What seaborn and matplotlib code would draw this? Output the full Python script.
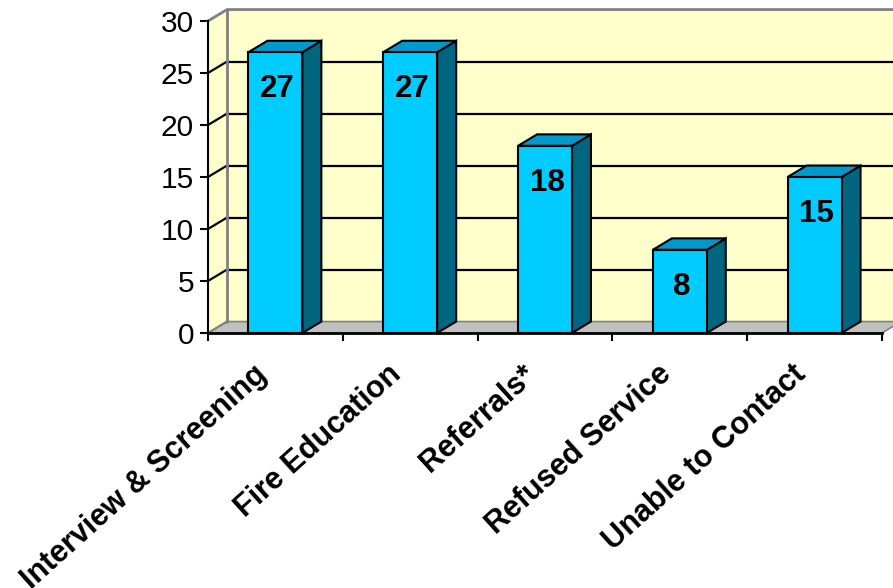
import matplotlib
matplotlib.use("Agg")
import matplotlib.pyplot as plt
import matplotlib.transforms as mtransforms
import seaborn as sns
import pandas as pd
from matplotlib.patches import Polygon
from matplotlib.ticker import FixedLocator

categories = ["Interview & Screening", "Fire Education", "Referrals*",
              "Refused Service", "Unable to Contact"]
values = [27, 27, 18, 8, 15]
y_ticks = [0, 5, 10, 15, 20, 25, 30]

sns.set_theme(style="white")
plt.rcParams["font.family"] = ["Liberation Sans", "DejaVu Sans"]
plt.rcParams["text.color"] = "black"
plt.rcParams["xtick.color"] = "black"
plt.rcParams["ytick.color"] = "black"
plt.rcParams["axes.labelcolor"] = "black"

W, H = 893, 588
fig = plt.figure(figsize=(W / 100, H / 100), dpi=100)
ax = fig.add_axes([208 / W, (H - 333) / H, (882 - 208) / W, 312 / H])

df = pd.DataFrame({"category": categories, "value": values})
sns.barplot(data=df, x="category", y="value", color="#00CCFF", width=0.4,
            saturation=1, edgecolor="black", linewidth=1.5, ax=ax, zorder=4)
bars = list(ax.patches)

ax.set_xlim(-0.5, 4.5)
ax.set_ylim(0, 30)
ax.set_facecolor("none")

# depth offsets in data units
dx = 19 / 134.8
dy = 1.1
x0, x1 = -0.5, 4.5
ymax = 30

wall_yellow = "#FFFFCC"
frame_gray = "#808080"

# back wall
ax.add_patch(Polygon([(x0 + dx, dy), (x1 + dx, dy), (x1 + dx, ymax + dy), (x0 + dx, ymax + dy)],
                     closed=True, facecolor=wall_yellow, edgecolor="none", zorder=0.5, clip_on=False))
# left wall
ax.add_patch(Polygon([(x0, 0), (x0 + dx, dy), (x0 + dx, ymax + dy), (x0, ymax)],
                     closed=True, facecolor=wall_yellow, edgecolor="none", zorder=0.5, clip_on=False))
# floor
ax.add_patch(Polygon([(x0, 0), (x1, 0), (x1 + dx, dy), (x0 + dx, dy)],
                     closed=True, facecolor="#C0C0C0", edgecolor=frame_gray, linewidth=1.2,
                     zorder=0.6, clip_on=False))

# gridlines on walls
for v in y_ticks[1:-1]:
    ax.plot([x0 + dx, x1 + dx], [v + dy, v + dy], color="black", lw=1.6, zorder=1,
            clip_on=False, solid_capstyle="butt")
    ax.plot([x0, x0 + dx], [v, v + dy], color="black", lw=1.6, zorder=1, clip_on=False)

# wall frame
ax.plot([x0, x0 + dx, x1 + dx], [ymax, ymax + dy, ymax + dy], color=frame_gray, lw=2,
        zorder=1, clip_on=False)
ax.plot([x0 + dx, x0 + dx], [dy, ymax + dy], color=frame_gray, lw=2, zorder=1, clip_on=False)
ax.plot([x0, x0 + dx], [0, dy], color=frame_gray, lw=1.5, zorder=1, clip_on=False)

# 3D faces of bars
for b in bars:
    bx0 = b.get_x()
    bx1 = bx0 + b.get_width()
    h = b.get_height()
    side = Polygon([(bx1, 0), (bx1 + dx, dy), (bx1 + dx, h + dy), (bx1, h)], closed=True,
                   facecolor="#006680", edgecolor="black", linewidth=1.5, zorder=3,
                   clip_on=False, joinstyle="miter")
    top = Polygon([(bx0, h), (bx0 + dx, h + dy), (bx1 + dx, h + dy), (bx1, h)], closed=True,
                  facecolor="#0099CC", edgecolor="black", linewidth=1.5, zorder=3,
                  clip_on=False, joinstyle="miter")
    ax.add_patch(side)
    ax.add_patch(top)

# value labels
for b, v in zip(bars, values):
    cx = b.get_x() + b.get_width() / 2
    ax.annotate(str(v), xy=(cx, v), xytext=(1.5, -32.5), textcoords="offset points",
                ha="center", va="baseline", fontsize=22.5, fontweight="bold",
                color="black", zorder=6)

# axes styling
for s in ["top", "right"]:
    ax.spines[s].set_visible(False)
ax.spines["left"].set_color("black")
ax.spines["left"].set_linewidth(1.5)
ax.spines["bottom"].set_color("black")
ax.spines["bottom"].set_linewidth(2)
ax.spines["bottom"].set_zorder(5)
ax.spines["left"].set_zorder(5)

ax.set_xlabel("")
ax.set_ylabel("")
ax.set_yticks(y_ticks)
ax.set_yticklabels([str(t) for t in y_ticks], fontsize=21.5)
ax.tick_params(axis="y", left=True, length=5.5, width=1.5, color="black", pad=4.5,
               direction="out")

ax.set_xticks(range(len(categories)))
ax.set_xticklabels(categories, rotation=42, ha="right", va="center",
                   rotation_mode="anchor", fontsize=22, fontweight="bold")
ax.xaxis.set_minor_locator(FixedLocator([-0.5, 0.5, 1.5, 2.5, 3.5, 4.5]))
ax.tick_params(axis="x", which="major", bottom=True, length=0, pad=27)
ax.tick_params(axis="x", which="minor", bottom=True, length=6, width=1.5,
               color="black", direction="out")

shift = mtransforms.ScaledTranslation(-13 / 100, 0, fig.dpi_scale_trans)
for lab in ax.get_xticklabels():
    lab.set_transform(lab.get_transform() + shift)

fig.savefig("out.png", dpi=100)
